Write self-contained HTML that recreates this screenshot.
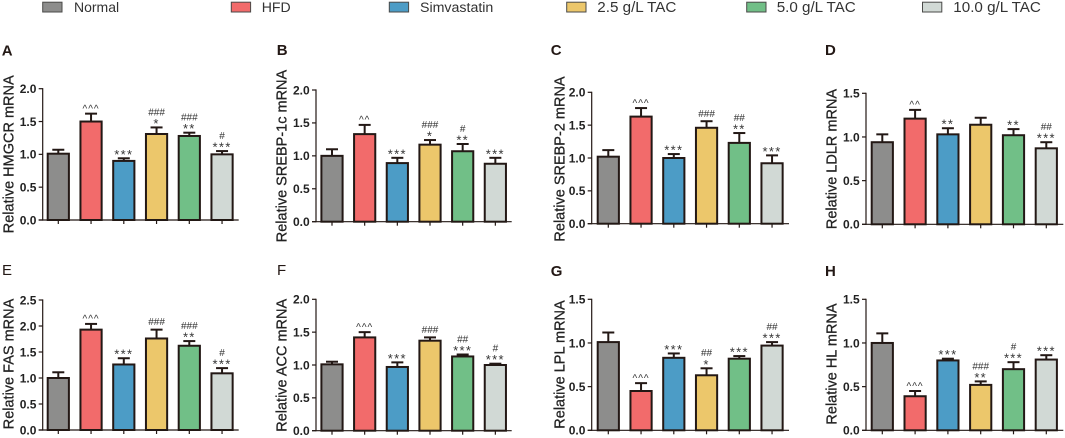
<!DOCTYPE html>
<html lang="en">
<head>
<meta charset="utf-8">
<title>Relative mRNA expression bar charts</title>
<style>
html,body{margin:0;padding:0;background:#fff;}
#figure{display:block;width:1065px;height:438px;filter:blur(0.3px);}
text{font-family:"Liberation Sans",Arial,sans-serif;}
</style>
</head>
<body>
<svg id="figure" xmlns="http://www.w3.org/2000/svg" width="1065" height="438" viewBox="0 0 1065 438"></svg>
<script>
const categories = ["Normal","HFD","Simvastatin","2.5 g/L TAC","5.0 g/L TAC","10.0 g/L TAC"];
const panelLetters = ["A","B","C","D","E","F","G","H"];
const genes = ["HMGCR","SREBP-1c","SREBP-2","LDLR","FAS","ACC","LPL","HL"];

const meansA = [1.01,1.50,0.90,1.31,1.28,1.00];
const meansB = [1.00,1.33,0.89,1.17,1.07,0.88];
const meansC = [1.02,1.63,1.00,1.46,1.23,0.92];
const meansD = [0.94,1.21,1.03,1.14,1.02,0.87];
const meansE = [1.00,1.93,1.26,1.76,1.62,1.09];
const meansF = [1.01,1.42,0.97,1.37,1.13,1.00];
const meansG = [1.01,0.45,0.83,0.63,0.82,0.97];
const meansH = [1.00,0.39,0.80,0.52,0.70,0.81];
const allMeans = [meansA,meansB,meansC,meansD,meansE,meansF,meansG,meansH];

const errorsA = [0.06,0.12,0.04,0.10,0.05,0.05];
const errorsB = [0.10,0.14,0.08,0.07,0.11,0.09];
const errorsC = [0.10,0.13,0.06,0.10,0.15,0.12];
const errorsD = [0.09,0.10,0.07,0.08,0.07,0.07];
const errorsE = [0.11,0.11,0.12,0.17,0.09,0.10];
const errorsF = [0.04,0.08,0.07,0.05,0.03,0.02];
const errorsG = [0.11,0.09,0.05,0.08,0.03,0.04];
const errorsH = [0.11,0.06,0.02,0.04,0.08,0.05];
const allErrors = [errorsA,errorsB,errorsC,errorsD,errorsE,errorsF,errorsG,errorsH];

const ticksTo2 = ["0.0","0.5","1.0","1.5","2.0"];
const ticksTo15 = ["0.0","0.5","1.0","1.5"];
const ticksTo25 = ["0.0","0.5","1.0","1.5","2.0","2.5"];
const allTicks = [ticksTo2,ticksTo2,ticksTo2,ticksTo15,ticksTo25,ticksTo2,ticksTo15,ticksTo15];

const marksA = [[],["^^^"],["***"],["*","###"],["**","###"],["***","#"]];
const marksB = [[],["^^"],["***"],["*","###"],["**","#"],["***"]];
const marksC = [[],["^^^"],["***"],["###"],["**","##"],["***"]];
const marksD = [[],["^^"],["**"],[],["**"],["***","##"]];
const marksE = [[],["^^^"],["***"],["###"],["**","###"],["***","#"]];
const marksF = [[],["^^^"],["***"],["###"],["***","##"],["***","#"]];
const marksG = [[],["^^^"],["***"],["*","##"],["***"],["***","##"]];
const marksH = [[],["^^^"],["***"],["**","###"],["***","#"],["***"]];
const allMarks = [marksA,marksB,marksC,marksD,marksE,marksF,marksG,marksH];

/* ---- presentation only below ---- */
const colors = ["#8d8d8c","#f26b6b","#4c9cc6","#ecc76b","#71bf87","#d1d9d5"];
const ink = "#231815";
const legendLayout = [
  {sx:42.7,tx:74,fs:14},
  {sx:231.3,tx:261.7,fs:14.1},
  {sx:389.3,tx:420,fs:14.2},
  {sx:566.7,tx:597.3,fs:15.2},
  {sx:746.7,tx:776.7,fs:15.2},
  {sx:922.5,tx:953.3,fs:15.2}
];
const layouts = [
  {ax:42.7,end:238.7,top:88.7,zero:220,first:58.3,step:32.75,lx:1.7,ly:55.3,lw:"bold",tx:13.3,ty:154.3},
  {ax:316,end:511.7,top:90,zero:221.7,first:332,step:32.67,lx:276.7,ly:55,lw:"bold",tx:286.7,ty:156},
  {ax:591.7,end:789,top:92.3,zero:223.7,first:608.3,step:32.75,lx:550.7,ly:55,lw:"bold",tx:564.3,ty:159},
  {ax:866,end:1063.3,top:93.3,zero:224.3,first:882.3,step:32.8,lx:825,ly:55,lw:"bold",tx:836.7,ty:159},
  {ax:42.7,end:238.7,top:300,zero:430,first:58.3,step:32.75,lx:2,ly:275,lw:"normal",tx:13.3,ty:364},
  {ax:316,end:511.7,top:299.3,zero:430.7,first:332,step:32.67,lx:277,ly:275,lw:"normal",tx:286.7,ty:365.3},
  {ax:591.7,end:789,top:299.3,zero:430.3,first:608.3,step:32.75,lx:550.7,ly:276,lw:"bold",tx:564.3,ty:364.5},
  {ax:866,end:1063.3,top:299.3,zero:430.3,first:882.3,step:32.8,lx:825,ly:276,lw:"bold",tx:836.7,ty:364}
];

const svg = document.getElementById("figure");
const NS = "http://www.w3.org/2000/svg";

function make(tag, attrs, parent, content) {
  const node = document.createElementNS(NS, tag);
  for (const key in attrs) node.setAttribute(key, attrs[key]);
  if (content !== undefined) node.textContent = content;
  parent.appendChild(node);
  return node;
}

function slug(s) {
  return s.toLowerCase().replace(/[^a-z0-9]+/g, "-").replace(/^-|-$/g, "");
}

/* legend */
const legend = make("g", {}, svg);


categories.forEach(function (cat, i) {
  const pos = legendLayout[i];
  const entry = make("g", {}, legend);
  
  
  const swatch = make("rect", {x: pos.sx, y: 2.2, width: 19.3, height: 9.8, fill: colors[i], stroke: "#4a4a48", "stroke-width": 1}, entry);
  
  
  const label = make("text", {x: pos.tx, y: 12, "font-size": pos.fs, fill: "#333"}, entry, cat);
  
  
});

/* annotation vertical placement: centre of glyph → baseline offset */
function markStyle(token) {
  if (token[0] === "*") return {size: 13, spacing: 1.3, shift: 7.5};
  if (token[0] === "^") return {size: 10, spacing: 1, shift: 5.3};
  return {size: 10, spacing: 0, shift: 3.6};
}

panelLetters.forEach(function (letter, p) {
  const L = layouts[p];
  const means = allMeans[p];
  const errors = allErrors[p];
  const ticks = allTicks[p];
  const marks = allMarks[p];
  const maxValue = parseFloat(ticks[ticks.length - 1]);
  const yScale = function (v) { return L.zero - (v / maxValue) * (L.zero - L.top); };
  const xScale = function (i) { return L.first + i * L.step; };

  const panel = make("g", {}, svg);
  
  

  const panelLabel = make("text", {x: L.lx, y: L.ly, "font-size": 15, "font-weight": L.lw, fill: ink}, panel, letter);
  
  

  const title = make("text", {x: L.tx, y: L.ty, "font-size": 14.5, fill: "#222", stroke: "#222", "stroke-width": 0.25, "text-anchor": "middle", transform: "rotate(-90 " + L.tx + " " + L.ty + ")"}, panel, "Relative " + genes[p] + " mRNA");
  
  

  /* bars + errors */
  means.forEach(function (value, i) {
    const cx = xScale(i);
    const group = make("g", {}, panel);
    
    

    const yTop = yScale(value + errors[i]);
    const yMean = yScale(value);
    const stem = make("line", {x1: cx, x2: cx, y1: yMean, y2: yTop, stroke: ink, "stroke-width": 2}, group);
    
    
    const cap = make("line", {x1: cx - 6, x2: cx + 6, y1: yTop, y2: yTop, stroke: ink, "stroke-width": 2}, group);
    
    

    const bar = make("rect", {x: cx - 10.6, y: yMean, width: 21.2, height: L.zero - yMean, fill: colors[i], stroke: ink, "stroke-width": 2}, group);
    
    

    let centre = yTop;
    marks[i].forEach(function (token, k) {
      const st = markStyle(token);
      if (k === 0) centre -= token[0] === "#" ? 8 : 7;
      else centre -= 8.7;
      const mark = make("text", {x: cx, y: centre + st.shift, "font-size": st.size, "letter-spacing": st.spacing, "text-anchor": "middle", fill: "#333"}, group, token);
      
      
    });

    const xt = make("line", {x1: cx, x2: cx, y1: L.zero, y2: L.zero + 4, stroke: ink, "stroke-width": 1.2}, group);
    
    
  });

  /* axes */
  const yAxis = make("line", {x1: L.ax, x2: L.ax, y1: L.top - 0.6, y2: L.zero + 0.6, stroke: ink, "stroke-width": 1.2}, panel);
  
  
  const xAxis = make("line", {x1: L.ax - 4, x2: L.end, y1: L.zero, y2: L.zero, stroke: ink, "stroke-width": 1.2}, panel);
  
  

  ticks.forEach(function (tick) {
    const y = yScale(parseFloat(tick));
    const yt = make("line", {x1: L.ax - 4, x2: L.ax, y1: y, y2: y, stroke: ink, "stroke-width": 1.2}, panel);
    
    
    const yl = make("text", {x: L.ax - 6.3, y: y + 4.3, "font-size": 12, "font-weight": "bold", "text-anchor": "end", fill: "#222"}, panel, tick);
    
    
  });
});
</script>
</body>
</html>
